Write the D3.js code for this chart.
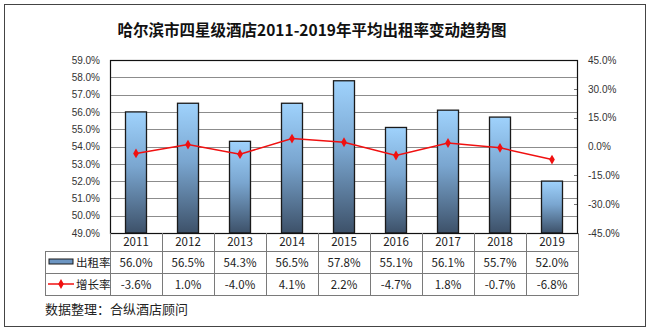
<!DOCTYPE html>
<html><head><meta charset="utf-8">
<script src="https://cdn.jsdelivr.net/npm/d3@7/dist/d3.min.js"></script>
<style>body{margin:0;background:#fff}svg{display:block}</style>
</head><body><svg id="c" width="650" height="333"></svg>
<script>
const years = ["2011","2012","2013","2014","2015","2016","2017","2018","2019"];
const occupancy = [56.0,56.5,54.3,56.5,57.8,55.1,56.1,55.7,52.0];
const growth = [-3.6,1.0,-4.0,4.1,2.2,-4.7,1.8,-0.7,-6.8];
const leftTicks = [49,50,51,52,53,54,55,56,57,58,59];
const rightTicks = [-45,-30,-15,0,15,30,45];
const title = "哈尔滨市四星级酒店2011-2019年平均出租率变动趋势图";
const seriesNames = ["出租率","增长率"];
const source = "数据整理：合纵酒店顾问";

const svg = d3.select("#c");
const L=110,R=578,T=60,B=233;
const x = d3.scaleBand().domain(years).range([L,R]);
const y = d3.scaleLinear().domain([49,59]).range([B,T]);
const y2 = d3.scaleLinear().domain([-45,45]).range([B,T]);
const font = "'Noto Sans CJK SC','Noto Sans',sans-serif";

svg.append("rect").attr("x",4.5).attr("y",4.5).attr("width",641).attr("height",322)
  .attr("fill","#fff").attr("stroke","#444").attr("stroke-width",1);

svg.append("text").attr("x",312).attr("y",36).attr("text-anchor","middle")
  .attr("font-family",font).attr("font-weight","bold").attr("font-size",15.5).attr("fill","#111").text(title);

const defs = svg.append("defs");
const g = defs.append("linearGradient").attr("id","bg").attr("x1",0).attr("y1",0).attr("x2",0).attr("y2",1);
g.append("stop").attr("offset","0%").attr("stop-color","#9fd2fc");
g.append("stop").attr("offset","45%").attr("stop-color","#7aa6d0");
g.append("stop").attr("offset","100%").attr("stop-color","#3d5169");

// grid
svg.append("g").selectAll("line").data(leftTicks).join("line")
  .attr("x1",L).attr("x2",R).attr("y1",d=>Math.round(y(d))+0.5).attr("y2",d=>Math.round(y(d))+0.5)
  .attr("stroke","#8c8c8c").attr("stroke-width",1);

// left axis
const ax = d3.axisLeft(y).tickValues(leftTicks).tickFormat(d=>d.toFixed(1)+"%").tickSize(0).tickPadding(10);
const ga = svg.append("g").attr("transform",`translate(${L},0)`).call(ax);
ga.select(".domain").remove();
ga.selectAll("text").attr("font-family","Arial,'Liberation Sans',sans-serif").attr("font-size",10).attr("fill","#333");

// right axis
const ax2 = d3.axisRight(y2).tickValues(rightTicks).tickFormat(d=>d.toFixed(1)+"%").tickSize(0).tickPadding(10);
const gb = svg.append("g").attr("transform",`translate(${R},0)`).call(ax2);
gb.select(".domain").remove();
gb.selectAll("text").attr("font-family","Arial,'Liberation Sans',sans-serif").attr("font-size",10).attr("fill","#333");
svg.append("g").selectAll("line").data(rightTicks).join("line")
  .attr("x1",R-4).attr("x2",R).attr("y1",d=>Math.round(y2(d))+0.5).attr("y2",d=>Math.round(y2(d))+0.5)
  .attr("stroke","#777");

// bars
const bw = 21;
svg.append("g").selectAll("rect").data(occupancy).join("rect")
  .attr("x",(d,i)=>x(years[i])+x.bandwidth()/2-bw/2).attr("width",bw)
  .attr("y",d=>y(d)).attr("height",d=>B-y(d))
  .attr("fill","url(#bg)").attr("stroke","#1a1a1a").attr("stroke-width",1.3);

// plot border
svg.append("rect").attr("x",L+0.5).attr("y",T+0.5).attr("width",R-L-1).attr("height",B-T)
  .attr("fill","none").attr("stroke","#111").attr("stroke-width",1.2);

// line
const line = d3.line().x((d,i)=>x(years[i])+x.bandwidth()/2).y(d=>y2(d));
svg.append("path").datum(growth).attr("d",line).attr("fill","none").attr("stroke","#f01010").attr("stroke-width",1.5);
const sym = d3.symbol().type(d3.symbolDiamond).size(28);
svg.append("g").selectAll("path").data(growth).join("path")
  .attr("transform",(d,i)=>`translate(${x(years[i])+x.bandwidth()/2},${y2(d)})`)
  .attr("d",sym).attr("fill","#f01010");

// table
const rows = [B,251,273,295];
const tg = svg.append("g");
const lc = "#7a7a7a";
// horizontal lines
tg.append("line").attr("x1",L).attr("x2",R).attr("y1",251.5).attr("y2",251.5).attr("stroke",lc);
tg.append("line").attr("x1",45).attr("x2",R).attr("y1",251.5).attr("y2",251.5).attr("stroke",lc);
tg.append("line").attr("x1",45).attr("x2",R).attr("y1",273.5).attr("y2",273.5).attr("stroke",lc);
tg.append("line").attr("x1",45).attr("x2",R).attr("y1",295.5).attr("y2",295.5).attr("stroke",lc);
// vertical lines
const vx = years.map(d=>x(d)).concat([R]);
tg.selectAll("line.v").data(vx).join("line").attr("class","v")
  .attr("x1",d=>Math.round(d)+0.5).attr("x2",d=>Math.round(d)+0.5).attr("y1",B).attr("y2",295.5).attr("stroke",lc);
tg.append("line").attr("x1",45.5).attr("x2",45.5).attr("y1",251.5).attr("y2",295.5).attr("stroke",lc);

const tf = {"font-family":font,"font-size":11.5,"fill":"#222"};
function applyF(s){for(const k in tf) s.attr(k,tf[k]); return s;}
applyF(tg.append("g").selectAll("text").data(years).join("text")
  .attr("x",d=>x(d)+x.bandwidth()/2).attr("y",246).attr("text-anchor","middle").text(d=>d));
applyF(tg.append("g").selectAll("text").data(occupancy).join("text")
  .attr("x",(d,i)=>x(years[i])+x.bandwidth()/2).attr("y",267).attr("text-anchor","middle").text(d=>d.toFixed(1)+"%"));
applyF(tg.append("g").selectAll("text").data(growth).join("text")
  .attr("x",(d,i)=>x(years[i])+x.bandwidth()/2).attr("y",289).attr("text-anchor","middle").text(d=>d.toFixed(1)+"%"));

// legend keys
tg.append("rect").attr("x",49).attr("y",259).attr("width",24).attr("height",5)
  .attr("fill","#6c95c2").attr("stroke","#1a1a1a").attr("stroke-width",1);
tg.append("line").attr("x1",48).attr("x2",74).attr("y1",284).attr("y2",284).attr("stroke","#f01010").attr("stroke-width",1.5);
tg.append("path").attr("transform","translate(61,284)").attr("d",sym).attr("fill","#f01010");
applyF(tg.append("text").attr("x",76).attr("y",267).text(seriesNames[0]));
applyF(tg.append("text").attr("x",76).attr("y",289).text(seriesNames[1]));

svg.append("text").attr("x",45).attr("y",314).attr("font-family",font).attr("font-size",13).attr("fill","#222").text(source);
</script></body></html>
